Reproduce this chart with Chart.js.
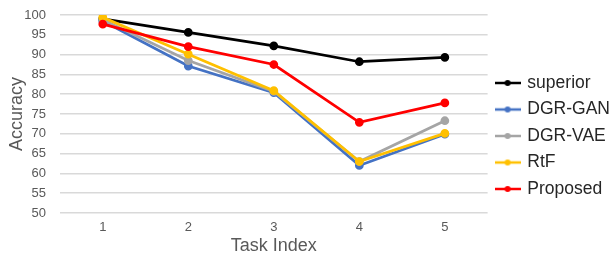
<!DOCTYPE html>
<html>
<head>
<meta charset="utf-8">
<script src="https://cdn.jsdelivr.net/npm/chart.js@4"></script>
<style>
  html, body { margin: 0; padding: 0; background: #fff; }
  #wrap { width: 611px; height: 257px; position: relative; }
</style>
</head>
<body>
<div id="wrap"><canvas id="accChart"></canvas></div>
<script>
// =====================
// DATA
// =====================
let taskLabels = ["1", "2", "3", "4", "5"];
let seriesNames = ["superior", "DGR-GAN", "DGR-VAE", "RtF", "Proposed"];
let seriesColors = ["#000000", "#4472C4", "#A5A5A5", "#FFC000", "#FF0000"];

let superior = [99.0, 95.6, 92.2, 88.2, 89.3];
let dgrGan   = [98.5, 87.1, 80.4, 62.0, 69.9];
let dgrVae   = [98.8, 88.5, 80.7, 63.0, 73.3];
let rtf      = [99.4, 90.1, 80.9, 63.0, 70.1];
let proposed = [97.7, 92.0, 87.5, 72.9, 77.8];

let seriesValues = [superior, dgrGan, dgrVae, rtf, proposed];

let yMin = 50;
let yMax = 100;
let yStep = 5;

// =====================
// LEGEND MARKER (line with dot)
// =====================
function makeMarker(color) {
    let c = document.createElement("canvas");
    c.width = 26;
    c.height = 10;
    let ctx = c.getContext("2d");
    ctx.strokeStyle = color;
    ctx.lineWidth = 2.5;
    ctx.beginPath();
    ctx.moveTo(0, 5);
    ctx.lineTo(26, 5);
    ctx.stroke();
    ctx.fillStyle = color;
    ctx.beginPath();
    ctx.arc(13, 5, 3, 0, Math.PI * 2);
    ctx.fill();
    return c;
}

// =====================
// CHART
// =====================
let datasets = seriesNames.map((name, i) => ({
    label: name,
    data: seriesValues[i],
    borderColor: seriesColors[i],
    backgroundColor: seriesColors[i],
    borderWidth: 2.75,
    pointRadius: 3,
    pointHoverRadius: 3,
    tension: 0,
    order: seriesNames.length - i
}));

let textColor = "#595959";
let fontFamily = "'Liberation Sans', Arial, sans-serif";

new Chart(document.getElementById("accChart"), {
    type: "line",
    data: { labels: taskLabels, datasets: datasets },
    options: {
        responsive: true,
        maintainAspectRatio: false,
        animation: false,
        layout: { padding: { top: 15, right: -9, left: 6, bottom: 0 } },
        plugins: {
            tooltip: { enabled: false },
            legend: {
                position: "right",
                labels: {
                    usePointStyle: true,
                    pointStyleWidth: 22,
                    color: "#262626",
                    font: { family: fontFamily, size: 17.5 },
                    padding: 9,
                    generateLabels: (chart) => chart.data.datasets.map((ds, i) => ({
                        text: ds.label,
                        fillStyle: ds.borderColor,
                        strokeStyle: ds.borderColor,
                        fontColor: "#262626",
                        pointStyle: makeMarker(ds.borderColor),
                        datasetIndex: i,
                        hidden: false
                    }))
                }
            }
        },
        scales: {
            x: {
                offset: true,
                afterFit: (scale) => { scale.height = 44; scale.paddingLeft = 0; scale.paddingRight = 0; },
                grid: { display: false, drawTicks: false },
                border: { display: false },
                ticks: { color: textColor, font: { family: fontFamily, size: 13 }, padding: 7 },
                title: {
                    display: true,
                    text: "Task Index",
                    color: textColor,
                    font: { family: fontFamily, size: 18 },
                    padding: { top: 0, bottom: 0 }
                }
            },
            y: {
                min: yMin,
                max: yMax,
                afterFit: (scale) => { scale.width = 54; scale.paddingTop = 0; scale.paddingBottom = 0; },
                grid: { color: "#D9D9D9", lineWidth: 1.5, drawTicks: false },
                border: { display: false },
                ticks: {
                    stepSize: yStep,
                    autoSkip: false,
                    color: textColor,
                    font: { family: fontFamily, size: 13 },
                    padding: 14
                },
                title: {
                    display: true,
                    text: "Accuracy",
                    color: textColor,
                    font: { family: fontFamily, size: 18 },
                    padding: { top: 0, bottom: 0 }
                }
            }
        }
    }
});
</script>
</body>
</html>
